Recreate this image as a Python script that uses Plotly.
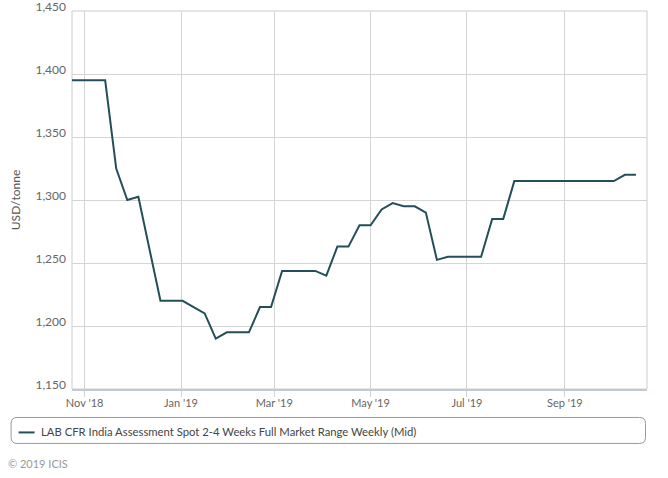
import plotly.graph_objects as go

dates = [
    "2018-10-24", "2018-10-31", "2018-11-07", "2018-11-14", "2018-11-21", "2018-11-28",
    "2018-12-05", "2018-12-12", "2018-12-19", "2018-12-26",
    "2019-01-02", "2019-01-09", "2019-01-16", "2019-01-23", "2019-01-30",
    "2019-02-06", "2019-02-13", "2019-02-20", "2019-02-27",
    "2019-03-06", "2019-03-13", "2019-03-20", "2019-03-27",
    "2019-04-03", "2019-04-10", "2019-04-17", "2019-04-24",
    "2019-05-01", "2019-05-08", "2019-05-15", "2019-05-22", "2019-05-29",
    "2019-06-05", "2019-06-12", "2019-06-19", "2019-06-26",
    "2019-07-03", "2019-07-10", "2019-07-17", "2019-07-24", "2019-07-31",
    "2019-08-07", "2019-08-14", "2019-08-21", "2019-08-28",
    "2019-09-04", "2019-09-11", "2019-09-18", "2019-09-25",
    "2019-10-02", "2019-10-09", "2019-10-16",
]

values = [
    1395, 1395, 1395, 1395, 1325, 1300, 1302.5, 1260, 1220, 1220,
    1220, 1215, 1210, 1190, 1195, 1195, 1195, 1215, 1215, 1243.75,
    1243.75, 1243.75, 1243.75, 1240, 1263, 1263, 1280, 1280, 1292.5, 1297.5,
    1295, 1295, 1290, 1252.5, 1255, 1255, 1255, 1255, 1285, 1285,
    1315, 1315, 1315, 1315, 1315, 1315, 1315, 1315, 1315, 1315,
    1320, 1320,
]

series_name = "LAB CFR India Assessment Spot 2-4 Weeks Full Market Range Weekly (Mid)"
y_title = "USD/tonne"
footer = "© 2019 ICIS"

FONT = "Lato, Open Sans, DejaVu Sans, sans-serif"
LINE = "#244f59"
GRID = "#d4d4d4"

fig = go.Figure()
fig.add_trace(go.Scatter(
    x=dates, y=values, mode="lines", name=series_name,
    line=dict(color=LINE, width=2),
))

W, H = 668, 478
L, R, T, B = 71.5, 20.5, 10.5, 89
pw = W - L - R
ph = H - T - B

def px_x(p):
    return (p - L) / pw

def px_y(p):
    return (H - B - p) / ph

fig.update_layout(
    width=W, height=H,
    margin=dict(l=L, r=R, t=T, b=B, pad=0, autoexpand=False),
    paper_bgcolor="white", plot_bgcolor="white",
    font=dict(family=FONT, size=12, color="#666666"),
    showlegend=False,
    xaxis=dict(
        type="date", automargin=False,
        range=["2018-10-24", "2019-10-23"],
        tick0="2018-11-01", dtick="M2",
        tickformat="%b '%y",
        showgrid=True, gridcolor=GRID, gridwidth=1,
        ticks="outside", ticklen=6, tickcolor=GRID,
        ticklabelstandoff=-3,
        showline=True, linecolor="#c0cad6", linewidth=2,
        tickfont=dict(size=11, color="#666666"),
        zeroline=False,
    ),
    yaxis=dict(
        automargin=False,
        range=[1150, 1450], dtick=50, tick0=1150,
        tickformat=",d",
        showgrid=True, gridcolor=GRID, gridwidth=1,
        ticks="", ticklabelstandoff=5, ticklabelshift=-4,
        ticklabeloverflow="allow",
        showline=False, zeroline=False,
        tickfont=dict(size=12, color="#666666"),
        title=dict(text=y_title, standoff=12, font=dict(size=12, color="#555555")),
    ),
    shapes=[
        dict(type="rect", xref="paper", yref="paper", x0=0, x1=1, y0=0, y1=1,
             line=dict(color="#cccccc", width=1), fillcolor="rgba(0,0,0,0)", layer="below"),
        # legend symbol
        dict(type="line", xref="paper", yref="paper",
             x0=px_x(18), x1=px_x(34), y0=px_y(432.5), y1=px_y(432.5),
             line=dict(color=LINE, width=2)),
    ],
    annotations=[
        dict(text=series_name, xref="paper", yref="paper", x=px_x(38), y=px_y(432),
             xanchor="left", yanchor="middle", showarrow=False,
             font=dict(size=11.3, color="#444444")),
        dict(text=footer, xref="paper", yref="paper", x=px_x(5), y=px_y(464),
             xanchor="left", yanchor="middle", showarrow=False,
             font=dict(size=11, color="#999999")),
    ],
)

# rounded legend box
x0, x1, y0, y1, r = px_x(10.5), px_x(646), px_y(417.5), px_y(443.5), 6
rx = r / pw
ry = r / ph
path = (f"M {x0+rx},{y0} L {x1-rx},{y0} Q {x1},{y0} {x1},{y0-ry} "
        f"L {x1},{y1+ry} Q {x1},{y1} {x1-rx},{y1} L {x0+rx},{y1} "
        f"Q {x0},{y1} {x0},{y1+ry} L {x0},{y0-ry} Q {x0},{y0} {x0+rx},{y0} Z")
fig.add_shape(type="path", xref="paper", yref="paper", path=path,
              line=dict(color="#999999", width=1), fillcolor="rgba(0,0,0,0)")

fig.write_html("out.html", config={"displayModeBar": False},
               post_script="document.body.style.margin='0';")
